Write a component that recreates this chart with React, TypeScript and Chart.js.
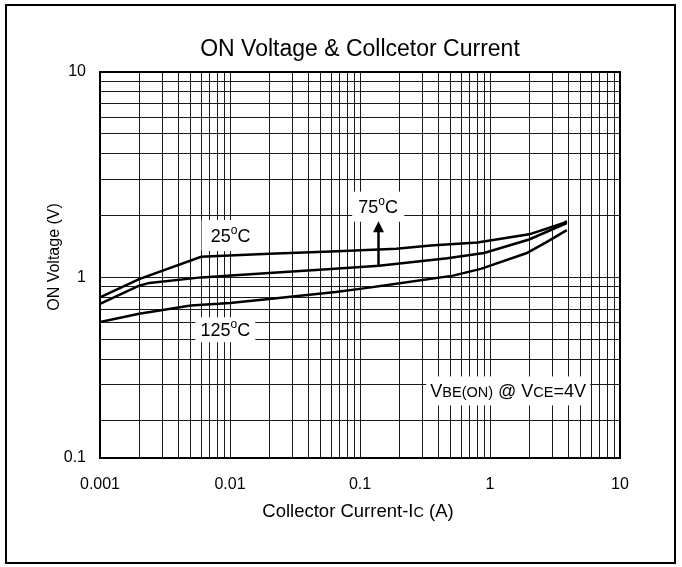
import { useEffect, useRef } from 'react';
import { Chart, registerables } from 'chart.js';

Chart.register(...registerables);

// VBE(ON) versus collector current at VCE = 4 V, three junction temperatures
const current25C = [0.001, 0.002, 0.006, 0.02, 0.06, 0.19, 0.35, 0.8, 2.0, 3.7, 3.9];
const vbe25C = [0.8, 0.98, 1.26, 1.305, 1.335, 1.38, 1.43, 1.48, 1.62, 1.84, 1.88];

const current75C = [0.001, 0.002, 0.0024, 0.006, 0.02, 0.06, 0.14, 0.47, 0.9, 2.0, 3.9];
const vbe75C = [0.744, 0.911, 0.94, 1.0, 1.05, 1.1, 1.14, 1.24, 1.315, 1.53, 1.84];

const current125C = [0.001, 0.002, 0.005, 0.01, 0.02, 0.065, 0.107, 0.19, 0.52, 0.85, 1.9, 2.7, 3.9];
const vbe125C = [0.606, 0.665, 0.73, 0.75, 0.785, 0.849, 0.884, 0.93, 1.02, 1.1, 1.31, 1.48, 1.7];

// Axis ranges and labelled ticks
const xMin = 0.001;
const xMax = 10;
const xTickValues = [0.001, 0.01, 0.1, 1, 10];
const xTickLabels = ['0.001', '0.01', '0.1', '1', '10'];

const yMin = 0.132; // lower edge of the grid, labelled 0.1
const yMax = 10;
const yTickValues = [0.132, 1, 10];
const yTickLabels = ['0.1', '1', '10'];

// Temperature arrow: current position, from the 75°C curve up to the label
const arrowCurrent = 0.137;
const arrowFrom = 1.14;
const arrowTo = 1.876;

const FONT = '"Liberation Sans", Arial, Helvetica, sans-serif';

type Seg = { text: string; size: number; rise?: number };

function measureSegs(ctx: CanvasRenderingContext2D, segs: Seg[]) {
  return segs.map((s) => {
    ctx.font = `${s.size}px ${FONT}`;
    return ctx.measureText(s.text).width;
  });
}

// draws mixed-size text centred on (cx, cy)
function drawRich(ctx: CanvasRenderingContext2D, segs: Seg[], cx: number, cy: number, mainSize: number) {
  const widths = measureSegs(ctx, segs);
  const total = widths.reduce((a, b) => a + b, 0);
  let x = cx - total / 2;
  const base = cy + mainSize * 0.36;
  ctx.textAlign = 'left';
  ctx.textBaseline = 'alphabetic';
  ctx.fillStyle = '#000';
  segs.forEach((s, i) => {
    ctx.font = `${s.size}px ${FONT}`;
    ctx.fillText(s.text, x, base - (s.rise || 0));
    x += widths[i];
  });
  return total;
}

// grid positions at 1..9 of every decade inside [min, max]
function logGrid(min: number, max: number) {
  const vals: number[] = [min];
  for (let e = -4; e <= 2; e++) {
    for (let m = 1; m < 10; m++) {
      const v = parseFloat((m * Math.pow(10, e)).toPrecision(6));
      if (v > min * 1.0001 && v <= max * 1.0001) vals.push(v);
    }
  }
  return vals;
}

function labelFor(values: number[], labels: string[], v: number) {
  const i = values.findIndex((t) => Math.abs(t - v) / t < 1e-4);
  return i >= 0 ? labels[i] : '';
}

type Note = { segs: Seg[]; x: number; y: number; boxW: number; boxH: number };

const degree = (t: string): Seg[] => [
  { text: t, size: 18 },
  { text: 'o', size: 12, rise: 8 },
  { text: 'C', size: 18 },
];

const notes: Note[] = [
  { segs: degree('25'), x: 0.0101, y: 1.6, boxW: 58, boxH: 31 },
  { segs: degree('125'), x: 0.0092, y: 0.556, boxW: 60, boxH: 25 },
  { segs: degree('75'), x: 0.138, y: 2.21, boxW: 52, boxH: 30 },
  {
    segs: [
      { text: 'V', size: 18 },
      { text: 'BE(ON)', size: 14.5 },
      { text: ' @ ', size: 18 },
      { text: 'V', size: 18 },
      { text: 'CE', size: 14.5 },
      { text: '=4V', size: 18 },
    ],
    x: 1.38,
    y: 0.28,
    boxW: 164,
    boxH: 29,
  },
];

const decorations = {
  id: 'decorations',
  beforeDatasetsDraw(chart: any) {
    const { ctx, scales } = chart;
    const xs = scales.x;
    const ys = scales.y;
    ctx.save();
    notes.forEach((n) => {
      const cx = xs.getPixelForValue(n.x);
      const cy = ys.getPixelForValue(n.y);
      ctx.fillStyle = '#fff';
      ctx.fillRect(cx - n.boxW / 2, cy - n.boxH / 2, n.boxW, n.boxH);
      drawRich(ctx, n.segs, cx, cy, 18);
    });
    ctx.restore();
  },
  afterDatasetsDraw(chart: any) {
    const { ctx, scales, chartArea } = chart;
    const xs = scales.x;
    const ys = scales.y;
    ctx.save();

    // temperature arrow
    const ax = Math.round(xs.getPixelForValue(arrowCurrent)) + 0.5;
    const ay0 = ys.getPixelForValue(arrowFrom);
    const ay1 = ys.getPixelForValue(arrowTo);
    ctx.strokeStyle = '#000';
    ctx.lineWidth = 2.5;
    ctx.beginPath();
    ctx.moveTo(ax, ay0);
    ctx.lineTo(ax, ay1 + 8);
    ctx.stroke();
    ctx.fillStyle = '#000';
    ctx.beginPath();
    ctx.moveTo(ax, ay1);
    ctx.lineTo(ax - 5.5, ay1 + 11);
    ctx.lineTo(ax + 5.5, ay1 + 11);
    ctx.closePath();
    ctx.fill();

    // plot frame
    ctx.lineWidth = 2;
    ctx.strokeRect(chartArea.left, chartArea.top, chartArea.right - chartArea.left, chartArea.bottom - chartArea.top);

    // outer frame
    ctx.strokeRect(6, 5, 669, 558);

    // title
    const midX = (chartArea.left + chartArea.right) / 2;
    drawRich(ctx, [{ text: 'ON Voltage & Collcetor Current', size: 23 }], midX, 48, 23);

    // x axis title
    drawRich(
      ctx,
      [
        { text: 'Collector Current-I', size: 18.5 },
        { text: 'C', size: 14.5 },
        { text: ' (A)', size: 18.5 },
      ],
      midX - 2,
      510,
      18.5
    );

    // y axis title
    ctx.translate(53, 257);
    ctx.rotate(-Math.PI / 2);
    drawRich(ctx, [{ text: 'ON Voltage (V)', size: 16 }], 0, 0, 16);
    ctx.restore();
  },
};

export default function App() {
  const canvasRef = useRef<HTMLCanvasElement | null>(null);

  useEffect(() => {
    if (!canvasRef.current) return;
    const toPts = (xs: number[], ys: number[]) => xs.map((x, i) => ({ x, y: ys[i] }));
    const line = (label: string, xs: number[], ys: number[]) => ({
      label,
      data: toPts(xs, ys),
      borderColor: '#000',
      borderWidth: 2.5,
      pointRadius: 0,
      tension: 0,
      fill: false,
    });

    const xGrid = logGrid(xMin, xMax);
    const yGrid = logGrid(yMin, yMax);

    const chart = new Chart(canvasRef.current, {
      type: 'line',
      data: {
        datasets: [
          line('25°C', current25C, vbe25C),
          line('75°C', current75C, vbe75C),
          line('125°C', current125C, vbe125C),
        ],
      },
      plugins: [decorations],
      options: {
        animation: false,
        responsive: false,
        devicePixelRatio: 1,
        layout: { padding: { left: 0, right: 62, top: 72, bottom: 0 } },
        plugins: {
          legend: { display: false },
          title: { display: false },
          tooltip: { enabled: false },
        },
        scales: {
          x: {
            type: 'logarithmic',
            min: xMin,
            max: xMax,
            afterBuildTicks: (scale: any) => {
              scale.ticks = xGrid.map((v) => ({ value: v }));
            },
            afterFit: (scale: any) => {
              scale.height = 109;
            },
            grid: { color: '#1a1a1a', lineWidth: 1, drawTicks: false },
            border: { display: false },
            ticks: {
              autoSkip: false,
              maxRotation: 0,
              minRotation: 0,
              padding: 17,
              color: '#000',
              font: { family: FONT, size: 16 },
              callback: (v: any) => labelFor(xTickValues, xTickLabels, Number(v)),
            },
          },
          y: {
            type: 'logarithmic',
            min: yMin,
            max: yMax,
            afterBuildTicks: (scale: any) => {
              scale.ticks = yGrid.map((v) => ({ value: v }));
            },
            afterFit: (scale: any) => {
              scale.width = 100;
            },
            grid: { color: '#1a1a1a', lineWidth: 1, drawTicks: false },
            border: { display: false },
            ticks: {
              autoSkip: false,
              padding: 14,
              color: '#000',
              font: { family: FONT, size: 16 },
              callback: (v: any) => labelFor(yTickValues, yTickLabels, Number(v)),
            },
          },
        },
      },
    } as any);

    return () => chart.destroy();
  }, []);

  return (
    <div style={{ position: 'absolute', left: 0, top: 0, width: 682, height: 567, background: '#fff' }}>
      <canvas ref={canvasRef} width={682} height={567} />
    </div>
  );
}
